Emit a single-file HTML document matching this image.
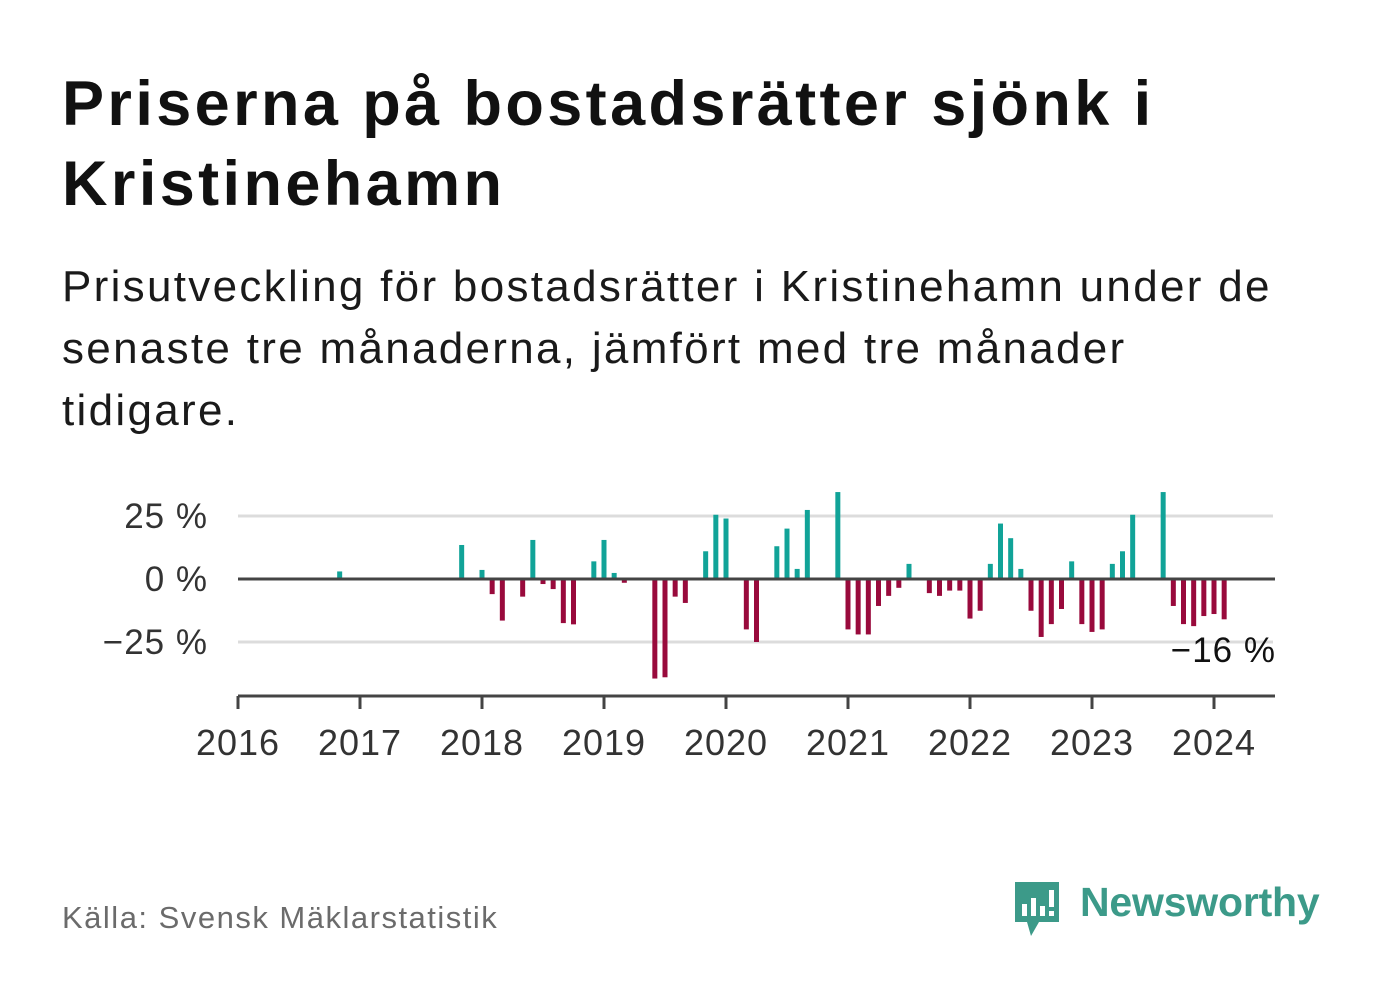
<!DOCTYPE html>
<html><head><meta charset="utf-8"><style>
body{margin:0;width:1382px;height:999px;background:#fff;font-family:"Liberation Sans",sans-serif;overflow:hidden;position:relative}
h1{position:absolute;left:62px;top:64px;margin:0;font-size:63px;line-height:80px;font-weight:bold;color:#111;letter-spacing:3.4px;white-space:nowrap}
.sub{position:absolute;left:62px;top:256px;font-size:44px;line-height:62px;color:#1a1a1a;letter-spacing:2.3px;white-space:nowrap}
.src{position:absolute;left:62px;top:900px;font-size:31px;color:#6b6b6b;letter-spacing:1.5px}
.logo{position:absolute;left:1080px;top:879px;font-size:41px;font-weight:bold;color:#3c9a89;letter-spacing:-0.2px}
</style></head><body>
<h1>Priserna på bostadsrätter sjönk i<br>Kristinehamn</h1>
<div class="sub">Prisutveckling för bostadsrätter i Kristinehamn under de<br>senaste tre månaderna, jämfört med tre månader<br>tidigare.</div>
<svg id="chart" width="1382" height="999" style="position:absolute;left:0;top:0"></svg>
<div class="src">Källa: Svensk Mäklarstatistik</div>
<svg width="52" height="60" style="position:absolute;left:1011px;top:880px">
<path d="M4 2h44v40H28l-8 14-4-14H4z" fill="#3c9a89"/>
<rect x="11" y="24" width="5" height="12" fill="#fff"/><rect x="20" y="18" width="5" height="18" fill="#fff"/><rect x="29" y="26" width="5" height="10" fill="#fff"/><rect x="38" y="10" width="5" height="17" fill="#fff"/><rect x="38" y="31" width="5" height="5" fill="#fff"/>
</svg>
<div class="logo">Newsworthy</div>
<script>
const months=[10,22,24,25,26,28,29,30,31,32,33,35,36,37,38,41,42,43,44,46,47,48,50,51,53,54,55,56,59,60,61,62,63,64,65,66,68,69,70,71,72,73,74,75,76,77,78,79,80,81,82,83,84,85,86,87,88,91,92,93,94,95,96,97];
const values=[3,13.5,3.6,-6,-16.5,-7,15.5,-2,-4,-17.5,-18,7,15.5,2.4,-1.5,-39.5,-39,-7,-9.5,11,25.5,24,-20,-25,13,20,4,27.4,34.5,-20,-22,-22,-10.7,-6.7,-3.5,6,-5.6,-6.7,-4.6,-4.6,-15.7,-12.6,6,22,16.2,4,-12.6,-23,-17.9,-11.9,7,-17.9,-21,-20,6,11,25.5,34.5,-10.7,-17.9,-18.7,-14.7,-13.9,-16];
const yTicks=[25,0,-25];
const yTickLabels=["25 %","0 %","−25 %"];
const years=[2016,2017,2018,2019,2020,2021,2022,2023,2024];
const NS="http://www.w3.org/2000/svg";
const svg=document.getElementById('chart');
const x=m=>238+m*(1214-238)/96;
const y=v=>579-v*2.52;
function mk(t,a){const e=document.createElementNS(NS,t);for(const k in a)e.setAttribute(k,a[k]);svg.appendChild(e);return e;}
yTicks.forEach((t,i)=>{
  if(t!==0){const g=mk('line',{x1:238,x2:1273,y1:y(t),y2:y(t),stroke:'#dcdcdc','stroke-width':3});
  
  }
  const l=mk('text',{x:208,y:y(t)+12,'text-anchor':'end','font-size':35,fill:'#333','font-family':'Liberation Sans','letter-spacing':1});
  l.textContent=yTickLabels[i];
  
  
});
months.forEach((m,i)=>{
  const v=values[i];
  const r=mk('rect',{x:x(m)-2.5,width:5,y:v>=0?y(v):y(0),height:Math.abs(y(v)-y(0)),fill:v>=0?'#11a398':'#990a3c'});
  
  
});
const z=mk('line',{x1:238,x2:1275,y1:y(0),y2:y(0),stroke:'#444','stroke-width':3});


const ax=mk('line',{x1:238,x2:1275,y1:696,y2:696,stroke:'#444','stroke-width':3});


years.forEach((yr,i)=>{
  const px=x(i*12);
  const t=mk('line',{x1:px,x2:px,y1:696,y2:709,stroke:'#444','stroke-width':3});
  
  
  const l=mk('text',{x:px,y:755,'text-anchor':'middle','font-size':36,fill:'#333','font-family':'Liberation Sans','letter-spacing':1});
  l.textContent=yr;
  
  
});
const last=values[values.length-1];
const lab=mk('text',{x:1276,y:662,'text-anchor':'end','font-size':35,fill:'#111','font-family':'Liberation Sans','letter-spacing':1});
lab.textContent='−'+Math.abs(Math.round(last))+' %';


</script>
</body></html>
